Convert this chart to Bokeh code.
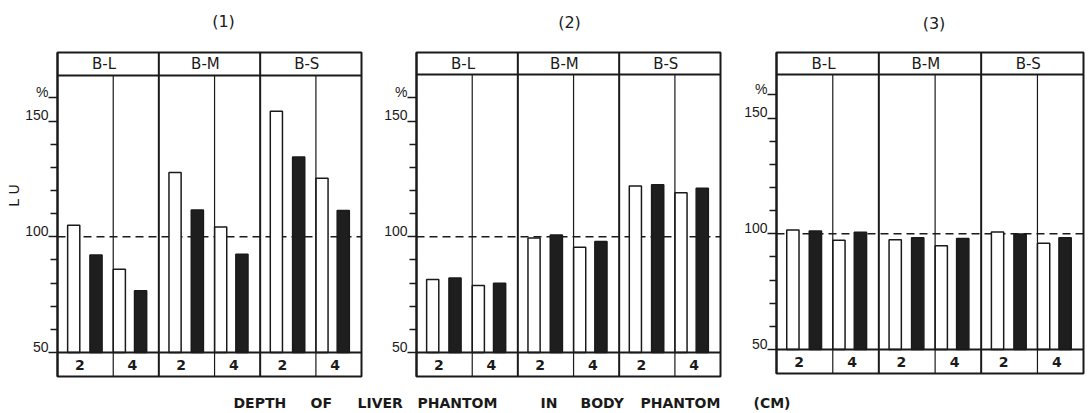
import math
from bokeh.plotting import figure
from bokeh.models import Range1d, FixedTicker, Span, LinearAxis
from bokeh.layouts import row, column
from bokeh.embed import file_html
from bokeh.resources import INLINE

# ---------------- data ----------------
PANEL_TITLES = ["(1)", "(2)", "(3)"]
GROUPS = ["B-L", "B-M", "B-S"]
DEPTHS = ["2", "4"]
Y_TICKS = [50, 100, 150, 160]
Y_TICK_LABELS = ["50", "100", "150", "%"]
Y_MINOR_TICKS = [60, 70, 80, 90, 110, 120, 130, 140]
REF_LEVEL = 100
Y_LABEL = "L U"
X_LABEL_WORDS = ["DEPTH", "OF", "LIVER", "PHANTOM", "IN", "BODY", "PHANTOM", "(CM)"]

# order: B-L d2, B-L d4, B-M d2, B-M d4, B-S d2, B-S d4
OPEN_1 = [105.0, 86.0, 127.7, 104.2, 154.2, 125.3]
FILLED_1 = [92.1, 76.7, 111.6, 92.4, 134.5, 111.3]
OPEN_2 = [81.5, 78.9, 99.5, 95.5, 121.9, 119.0]
FILLED_2 = [82.2, 79.9, 100.8, 98.0, 122.5, 121.0]
OPEN_3 = [101.6, 97.2, 97.4, 94.8, 100.8, 95.9]
FILLED_3 = [101.2, 100.6, 98.3, 97.9, 99.9, 98.3]

OPEN = [OPEN_1, OPEN_2, OPEN_3]
FILLED = [FILLED_1, FILLED_2, FILLED_3]

# ---------------- layout / style ----------------
FONT = "DejaVu Sans"
TICK_FONT = "Liberation Sans"
INK = "#1a1a1a"
W = 1088
TITLE_H = 40                 # strip holding the panel titles
CAPTION_H = 30               # strip holding the x caption
ROW_H = 413 - TITLE_H - CAPTION_H
LU_W = 22                    # strip holding the y label
LU_X, LU_Y = 13, 183         # y label centre (strip px, canvas px from top)
PX_PER_UNIT = 2.315          # vertical pixels per value unit
BASE = 50                    # bars start here
BOTTOM_BOX_PX = 24
LABEL_LIFT_PX = 6            # tick labels sit on top of their ticks
PANELS = [
    dict(left=35, right=14, top=46, fw=304, fh=324, header_px=23, t_off=14, t_y=21),
    dict(left=41, right=18, top=48, fw=304, fh=324, header_px=22, t_off=1, t_y=22),
    dict(left=38, right=5, top=52, fw=307, fh=321, header_px=22, t_off=4, t_y=23),
]
BAR_OFFSETS = [(0.16, 0.38), (0.61, 0.82)]   # (open, filled) per depth within a group
BAR_W = 0.12
DEPTH_DIVIDER = 0.55
DEPTH_LABEL_X = [0.22, 0.74]
GROUP_LABEL_X = 0.46


def make_panel(k):
    cfg = PANELS[k]
    y0 = BASE - BOTTOM_BOX_PX / PX_PER_UNIT
    y1 = y0 + cfg["fh"] / PX_PER_UNIT
    yh = y1 - cfg["header_px"] / PX_PER_UNIT
    ng = len(GROUPS)
    lift = LABEL_LIFT_PX / PX_PER_UNIT
    top_b = cfg["top"] - TITLE_H

    p = figure(frame_width=cfg["fw"], frame_height=cfg["fh"],
               min_border_left=cfg["left"], min_border_right=cfg["right"],
               min_border_top=top_b,
               min_border_bottom=ROW_H - top_b - cfg["fh"],
               x_range=Range1d(0, ng), y_range=Range1d(y0, y1),
               x_axis_location=None, toolbar_location=None,
               output_backend="svg")
    p.background_fill_color = "white"
    p.border_fill_color = "white"
    p.outline_line_color = INK
    p.outline_line_width = 2
    p.grid.visible = False

    # tick axis (ticks only)
    ax = p.yaxis[0]
    ax.ticker = FixedTicker(ticks=Y_TICKS, minor_ticks=Y_MINOR_TICKS)
    ax.major_label_overrides = {t: "" for t in Y_TICKS}
    ax.major_label_standoff = 0
    ax.major_tick_out = 9
    ax.major_tick_in = 0
    ax.minor_tick_out = 7
    ax.minor_tick_in = 0
    ax.axis_line_color = INK
    ax.axis_line_width = 2
    ax.major_tick_line_color = INK
    ax.major_tick_line_width = 1.5
    ax.minor_tick_line_color = INK
    ax.minor_tick_line_width = 1.3

    # label axis: same ticks, labels lifted so they sit on the tick marks
    p.extra_y_ranges = {"lab": Range1d(y0 - lift, y1 - lift)}
    lab = LinearAxis(y_range_name="lab",
                     ticker=FixedTicker(ticks=Y_TICKS, minor_ticks=[]),
                     major_label_overrides={t: s for t, s in zip(Y_TICKS, Y_TICK_LABELS)})
    lab.axis_line_color = None
    lab.major_tick_line_color = None
    lab.minor_tick_line_color = None
    lab.major_tick_out = 0
    lab.major_tick_in = 0
    lab.minor_tick_out = 0
    lab.minor_tick_in = 0
    lab.major_label_standoff = 0
    lab.major_label_text_font = TICK_FONT
    lab.major_label_text_font_size = "14px"
    lab.major_label_text_color = INK
    p.add_layout(lab, "left")

    # reference line
    p.add_layout(Span(location=REF_LEVEL, dimension="width", line_color=INK,
                      line_width=1.3, line_dash="8 5", level="underlay"))

    # bars
    ox, fx, ot, ft = [], [], [], []
    for gi in range(ng):
        for di in range(len(DEPTHS)):
            idx = gi * len(DEPTHS) + di
            ox.append(gi + BAR_OFFSETS[di][0])
            fx.append(gi + BAR_OFFSETS[di][1])
            ot.append(OPEN[k][idx])
            ft.append(FILLED[k][idx])
    p.vbar(x=ox, top=ot, bottom=BASE, width=BAR_W, fill_color="white",
           line_color=INK, line_width=1.5)
    p.vbar(x=fx, top=ft, bottom=BASE, width=BAR_W, fill_color="#1e1e1e",
           line_color=INK, line_width=1.5)

    # structure lines
    p.add_layout(Span(location=BASE, dimension="width", line_color=INK, line_width=2))
    p.add_layout(Span(location=yh, dimension="width", line_color=INK, line_width=2))
    for gi in range(1, ng):
        p.add_layout(Span(location=gi, dimension="height", line_color=INK, line_width=2))
    dx = [gi + DEPTH_DIVIDER for gi in range(ng)]
    p.segment(x0=dx, y0=[y0] * ng, x1=dx, y1=[yh] * ng, line_color=INK, line_width=1.2)

    # header group labels
    p.text(x=[gi + GROUP_LABEL_X for gi in range(ng)], y=[(yh + y1) / 2] * ng,
           text=GROUPS, text_align="center", text_baseline="middle",
           text_font={"value": FONT}, text_font_size="15px", text_color=INK)
    # depth labels
    lx, lt = [], []
    for gi in range(ng):
        for di, d in enumerate(DEPTHS):
            lx.append(gi + DEPTH_LABEL_X[di])
            lt.append(d)
    p.text(x=lx, y=[(y0 + BASE) / 2] * len(lx), text=lt, text_align="center",
           text_baseline="middle", text_font={"value": FONT},
           text_font_size="14px", text_font_style="bold", text_color=INK)
    return p


def strip(w, h):
    s = figure(frame_width=w, frame_height=h, min_border=0,
               x_range=Range1d(0, w), y_range=Range1d(0, h),
               x_axis_location=None, y_axis_location=None,
               toolbar_location=None, output_backend="svg")
    s.outline_line_color = None
    s.grid.visible = False
    s.background_fill_color = "white"
    s.border_fill_color = "white"
    return s


panels = [make_panel(k) for k in range(3)]

# titles strip: centred over each panel frame
tx, ty = [], []
cursor = LU_W
for cfg in PANELS:
    tx.append(cursor + cfg["left"] + cfg["fw"] / 2 + cfg["t_off"])
    ty.append(TITLE_H - cfg["t_y"])
    cursor += cfg["left"] + cfg["fw"] + cfg["right"]
titles = strip(W, TITLE_H)
titles.text(x=tx, y=ty, text=PANEL_TITLES, text_align="center",
            text_baseline="middle", text_font={"value": FONT},
            text_font_size="16px", text_color=INK)

# y label strip
lu = strip(LU_W, ROW_H)
lu.text(x=[LU_X], y=[ROW_H - (LU_Y - TITLE_H)], text=[Y_LABEL], angle=math.pi / 2,
        text_align="center", text_baseline="middle", text_font={"value": FONT},
        text_font_size="14px", text_color=INK)

# caption strip
CAPTION_X = [233, 310, 357, 417, 540, 580, 640, 753]
cap = strip(W, CAPTION_H)
cap.text(x=CAPTION_X, y=[10.5] * len(CAPTION_X), text=X_LABEL_WORDS,
         text_align="left", text_baseline="middle", text_font={"value": FONT},
         text_font_size="14px", text_font_style="bold", text_color=INK)

layout = column(titles, row(lu, *panels), cap)
open("out.html", "w").write(file_html(layout, INLINE))
